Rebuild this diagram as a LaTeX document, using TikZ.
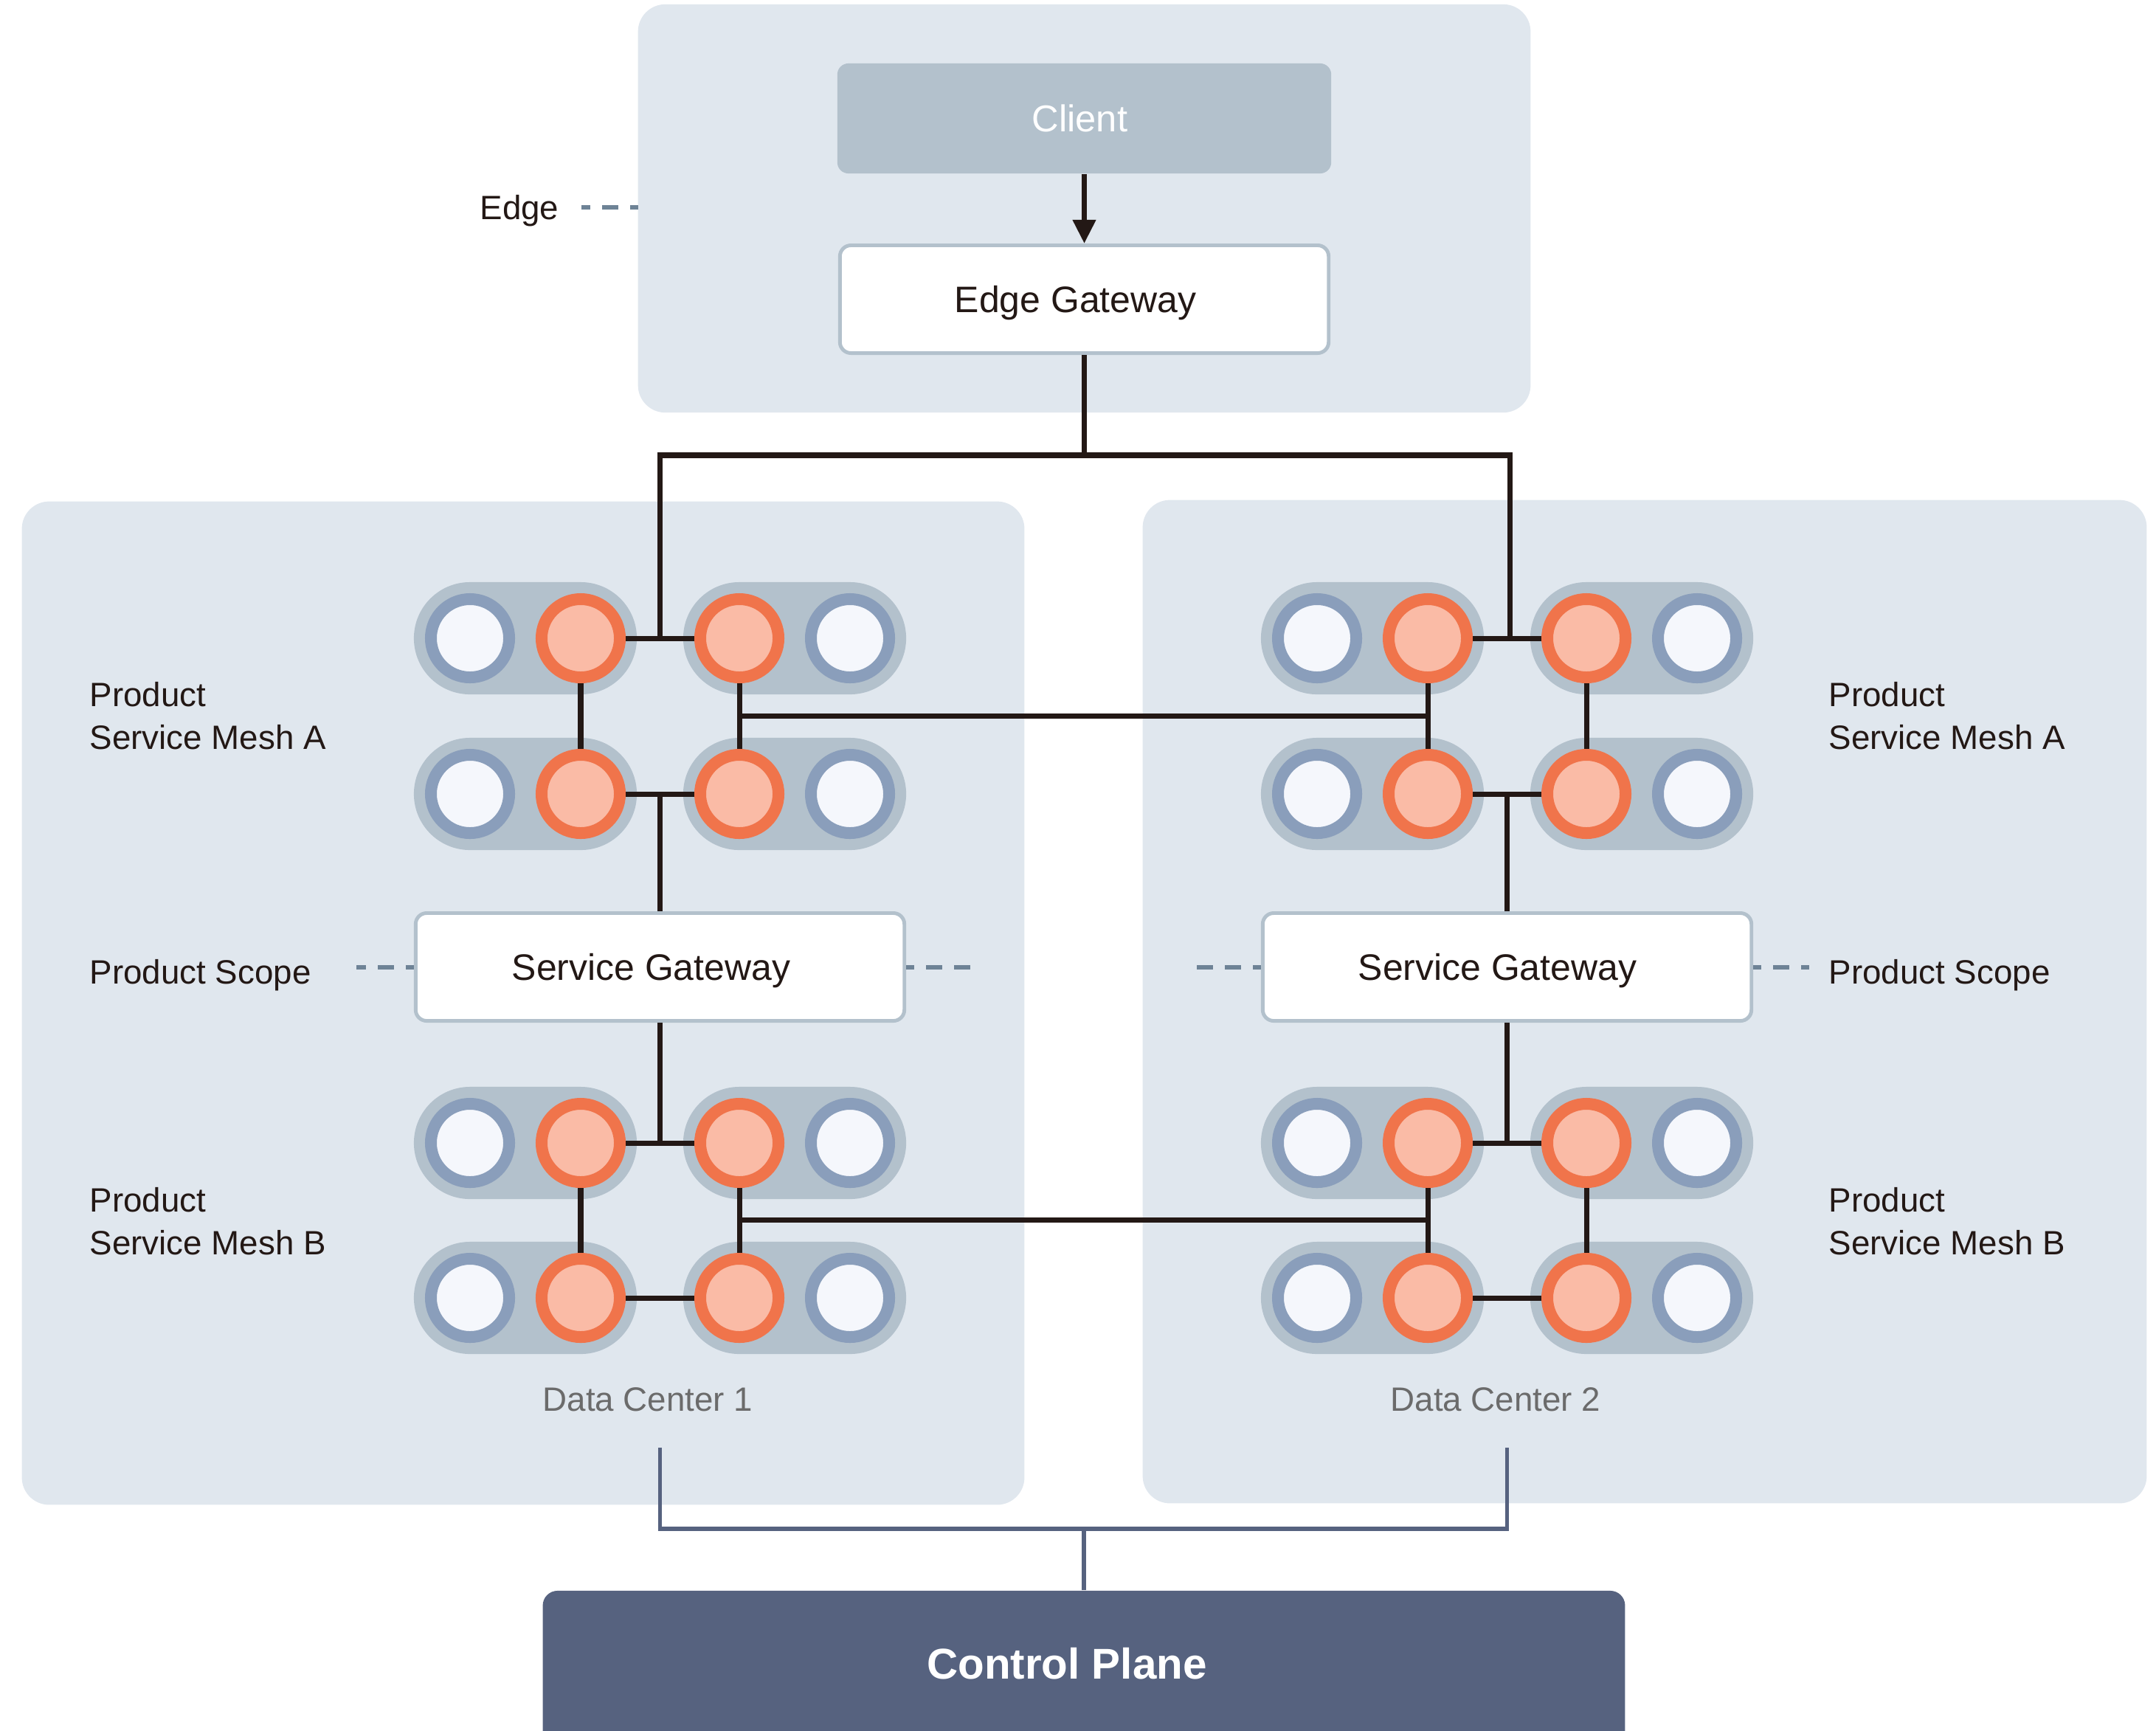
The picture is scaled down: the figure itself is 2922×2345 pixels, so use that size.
\documentclass[tikz,border=0pt]{standalone}
\usepackage{fontspec}
\setmainfont{Liberation Sans}
\usetikzlibrary{arrows.meta}
\definecolor{panelc}{HTML}{E0E7EE}
\definecolor{pillc}{HTML}{B3C1CC}
\definecolor{bluering}{HTML}{8A9EBB}
\definecolor{blueinner}{HTML}{F5F7FC}
\definecolor{orangering}{HTML}{F0744B}
\definecolor{orangeinner}{HTML}{FABBA6}
\definecolor{ink}{HTML}{231815}
\definecolor{dashc}{HTML}{6E8396}
\definecolor{cpc}{HTML}{56627F}
\definecolor{dcgray}{HTML}{6B6B6B}
\begin{document}
\begin{tikzpicture}[x=0.01cm,y=-0.01cm,
  panelbox/.style={fill=panelc,rounded corners=0.37cm,inner sep=0pt},
  clientbox/.style={fill=pillc,rounded corners=0.15cm,minimum width=6.69cm,minimum height=1.49cm,text=white,text depth=0pt,font=\fontsize{14.4}{17}\selectfont},
  gatebox/.style={fill=white,draw=pillc,line width=1.4pt,rounded corners=0.15cm,minimum width=6.62cm,minimum height=1.46cm,text=ink,text depth=0pt,font=\fontsize{14.2}{17}\selectfont},
  pill/.style={fill=pillc,minimum width=3.02cm,minimum height=1.52cm,rounded corners=0.76cm,inner sep=0pt},
  svc/.style={circle,fill=blueinner,draw=bluering,line width=4.55pt,minimum size=1.06cm,inner sep=0pt},
  proxy/.style={circle,fill=orangeinner,draw=orangering,line width=4.55pt,minimum size=1.06cm,inner sep=0pt},
  link/.style={draw=ink,line width=2pt},
  cpline/.style={draw=cpc,line width=1.5pt},
  dashline/.style={draw=dashc,line width=1.7pt,dash pattern=on 6.26pt off 4.55pt,dash phase=3.13pt},
  lbl/.style={text=ink,inner sep=0pt,font=\fontsize{13}{16.5}\selectfont,align=left},
  lbl1/.style={text=ink,inner sep=0pt,text depth=0pt,font=\fontsize{13}{16.5}\selectfont},
  dclbl/.style={text=dcgray,inner sep=0pt,font=\fontsize{13}{16}\selectfont}]
\useasboundingbox (0,0) rectangle (2922,2345);

% panels
\node[panelbox,minimum width=12.09cm,minimum height=5.53cm] (edgepanel) at (1469.5,282.5) {};
\node[panelbox,minimum width=13.58cm,minimum height=13.59cm] (dc1) at (709,1359.5) {};
\node[panelbox,minimum width=13.60cm,minimum height=13.59cm] (dc2) at (2229,1357.5) {};

% edge area
\node[clientbox] (client) at (1469.5,160.5) {\hspace*{-0.12cm}Client};
\node[gatebox] (eg) at (1469.5,405.5) {\hspace*{-0.24cm}Edge Gateway};
\draw[link,-{Triangle[length=0.32cm,width=0.3cm]}] (client.south) -- (eg.north);
\node[lbl1,anchor=east] (edgelbl) at (758,281) {Edge};
\draw[dashline] (865,281) -- (788,281);

% service gateways
\node[gatebox] (sg1) at (894.5,1310.5) {\hspace*{-0.24cm}Service Gateway};
\node[gatebox] (sg2) at (2042.5,1310.5) {\hspace*{-0.26cm}Service Gateway};

% pills and circles
\foreach \s/\dx in {L/0,R/1148}{
  \foreach \r/\yy in {1/865,2/1076,3/1549,4/1759}{
    \node[pill] (\s\r p) at (712+\dx,\yy) {};
    \node[pill] (\s\r q) at (1077+\dx,\yy) {};
    \node[svc] (\s\r a) at (637+\dx,\yy) {};
    \node[proxy] (\s\r b) at (787+\dx,\yy) {};
    \node[proxy] (\s\r c) at (1002+\dx,\yy) {};
    \node[svc] (\s\r d) at (1152+\dx,\yy) {};
  }
}

% junction coordinates
\coordinate (split) at (1469.5,617);
\coordinate (jL1) at (894.5,865);
\coordinate (jR1) at (2046,865);
\coordinate (jL2) at (894.5,1076);
\coordinate (jR2) at (2042.5,1076);
\coordinate (jL3) at (894.5,1549);
\coordinate (jR3) at (2042.5,1549);
\coordinate (mA) at (0,970);
\coordinate (mB) at (0,1653);

% edge gateway to both data centers
\draw[link] (eg.south) -- (split) -| (jL1);
\draw[link] (split) -| (jR1);

% meshes
\foreach \s in {L,R}{
  \draw[link] (\s1b) -- (\s1c);
  \draw[link] (\s1b) -- (\s2b);
  \draw[link] (\s1c) -- (\s2c);
  \draw[link] (\s2b) -- (\s2c);
  \draw[link] (\s3b) -- (\s3c);
  \draw[link] (\s3b) -- (\s4b);
  \draw[link] (\s3c) -- (\s4c);
  \draw[link] (\s4b) -- (\s4c);
}
\draw[link] (jL2) -- (sg1.north);
\draw[link] (sg1.south) -- (jL3);
\draw[link] (jR2) -- (sg2.north);
\draw[link] (sg2.south) -- (jR3);
\draw[link] (L1c |- mA) -- (R1b |- mA);
\draw[link] (L3c |- mB) -- (R3b |- mB);

% scope dashes
\draw[dashline] (sg1.west) -- ++(-78,0);
\draw[dashline] (sg1.east) -- ++(88,0);
\draw[dashline] (sg2.west) -- ++(-90,0);
\draw[dashline] (sg2.east) -- ++(76,0);

% labels
\node[lbl,anchor=west] (lmA) at (121,970) {Product\\Service Mesh A};
\node[lbl1,anchor=west] (lpsL) at (121,1317) {Product Scope};
\node[lbl,anchor=west] (lmB) at (121,1655) {Product\\Service Mesh B};
\node[lbl,anchor=west] (rmA) at (2478,970) {Product\\Service Mesh A};
\node[lbl1,anchor=west] (rpsR) at (2478,1317) {Product Scope};
\node[lbl,anchor=west] (rmB) at (2478,1655) {Product\\Service Mesh B};
\node[dclbl] (dc1lbl) at (878,1897) {Data Center 1};
\node[dclbl] (dc2lbl) at (2027,1897) {Data Center 2};

% control plane
\node[fill=cpc,rounded corners=0.2cm,minimum width=14.66cm,minimum height=3cm,inner sep=0pt] (cp) at (1469,2306) {};
\node[text=white,font=\bfseries\fontsize{16.6}{20}\selectfont,inner sep=0pt] (cptext) at (1446,2255) {Control Plane};
\coordinate (dc1b) at (894.5,1962);
\coordinate (dc2b) at (2042.5,1962);
\coordinate (cpj) at (1469,2072);
\draw[cpline] (dc1b) |- (cpj) -| (dc2b);
\draw[cpline] (cpj) -- (cp.north);
\end{tikzpicture}
\end{document}
